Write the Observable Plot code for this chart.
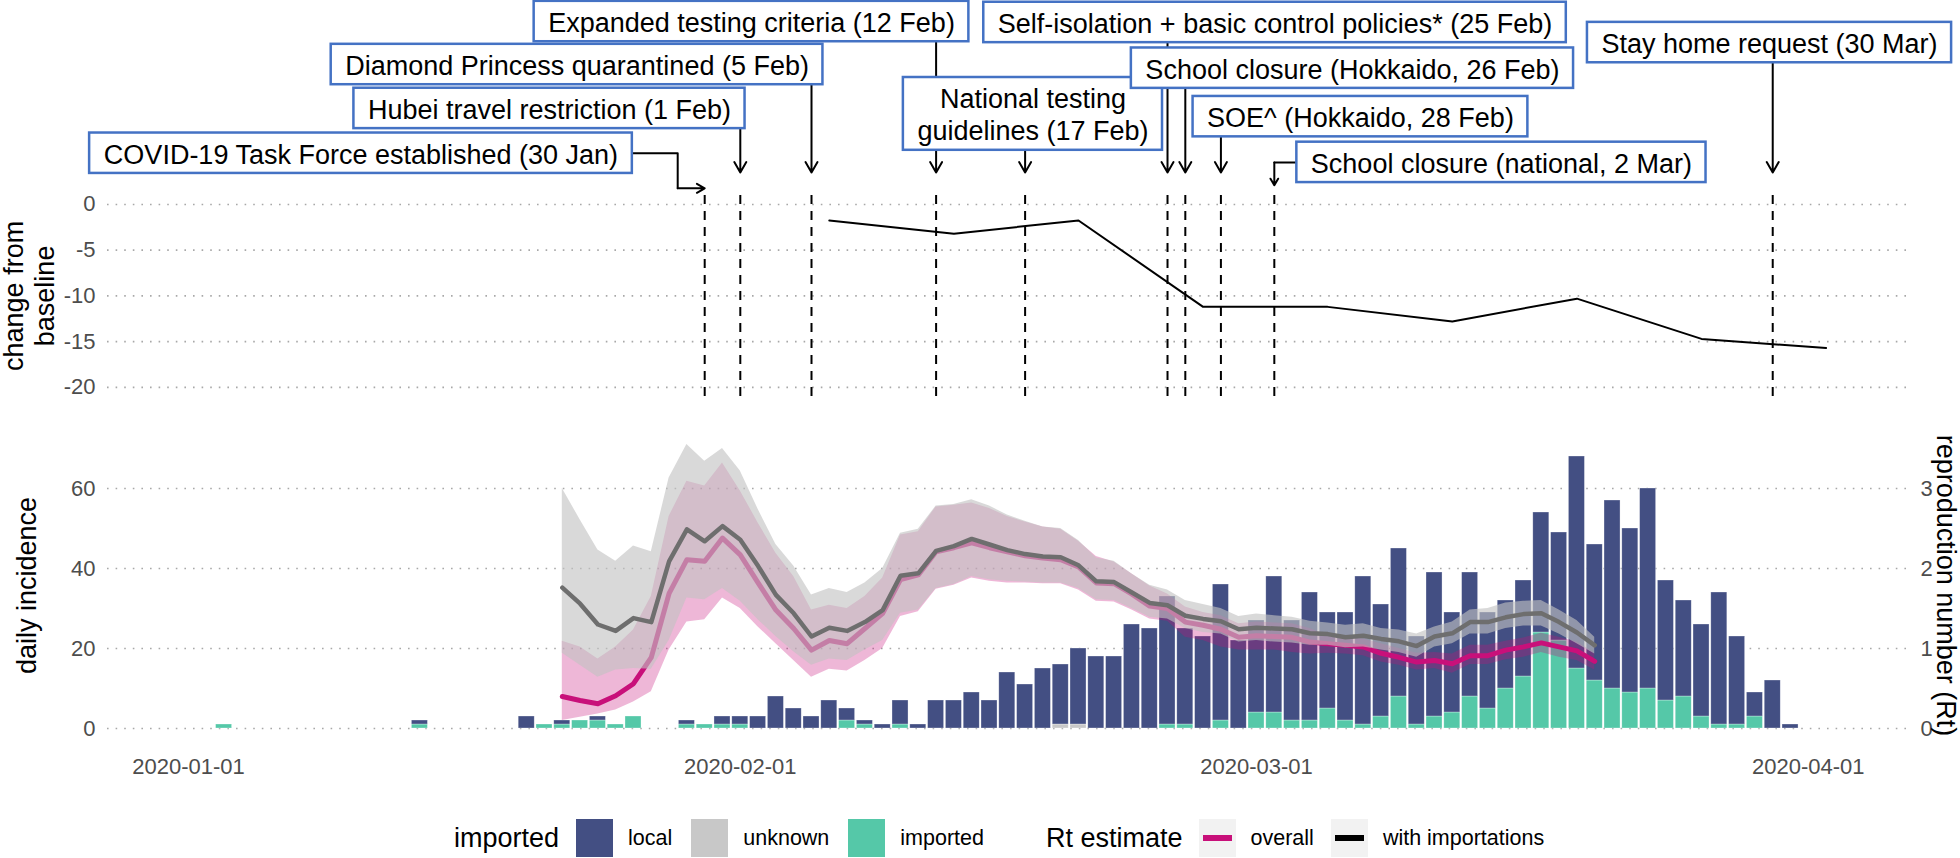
<!DOCTYPE html>
<html><head><meta charset="utf-8">
<script src="https://cdn.jsdelivr.net/npm/d3@7"></script>
<script src="https://cdn.jsdelivr.net/npm/@observablehq/plot@0.6"></script>
<style>
body{margin:0;background:#fff;font-family:"Liberation Sans",Arial,sans-serif;}
#wrap{position:relative;width:1960px;height:858px;overflow:hidden;background:#fff;}
#top{position:absolute;left:0;top:0;}
#bottom{position:absolute;left:0;top:400px;}
#legend{position:absolute;top:819px;left:454px;display:flex;align-items:center;height:38px;font-family:"Liberation Sans",Arial,sans-serif;color:#000;}
#legend .lt{font-size:27px;}
#legend .ll{font-size:21.5px;}
#legend .key{width:37px;height:38px;box-sizing:border-box;position:relative;}
#legend .lkey{background:#f2f2f2;}
#legend .lkey i{position:absolute;left:4px;right:4px;top:16px;height:6px;}
svg [aria-label$="tick label"]{fill:#4d4d4d;}
</style></head><body>
<div id="wrap"><div id="top"></div><div id="bottom"></div><div id="legend"></div></div>
<script>
// ---------------- data ----------------
const barDates = ["2020-01-03","2020-01-14","2020-01-20","2020-01-21","2020-01-22","2020-01-23","2020-01-24","2020-01-25","2020-01-26",
"2020-01-29","2020-01-30","2020-01-31","2020-02-01","2020-02-02","2020-02-03","2020-02-04","2020-02-05","2020-02-06","2020-02-07",
"2020-02-08","2020-02-09","2020-02-10","2020-02-11","2020-02-12","2020-02-13","2020-02-14","2020-02-15","2020-02-16","2020-02-17",
"2020-02-18","2020-02-19","2020-02-20","2020-02-21","2020-02-22","2020-02-23","2020-02-24","2020-02-25","2020-02-26","2020-02-27",
"2020-02-28","2020-02-29","2020-03-01","2020-03-02","2020-03-03","2020-03-04","2020-03-05","2020-03-06","2020-03-07","2020-03-08",
"2020-03-09","2020-03-10","2020-03-11","2020-03-12","2020-03-13","2020-03-14","2020-03-15","2020-03-16","2020-03-17","2020-03-18",
"2020-03-19","2020-03-20","2020-03-21","2020-03-22","2020-03-23","2020-03-24","2020-03-25","2020-03-26","2020-03-27","2020-03-28",
"2020-03-29","2020-03-30","2020-03-31"];
const localCases = [0,1,3,0,1,0,1,0,0,
1,0,2,2,3,8,5,3,7,3,
1,1,6,1,7,7,9,7,14,11,
15,15,19,18,18,26,25,32,24,23,
34,22,23,34,25,32,24,27,37,28,
37,22,36,25,31,24,22,24,30,27,
53,34,47,41,50,30,24,23,33,22,
6,12,1];
const unknownCases = [0,0,0,0,0,0,0,0,0,
0,0,0,0,0,0,0,0,0,0,
0,0,0,0,0,0,0,0,0,0,
0,1,1,0,0,0,0,0,0,0,
0,0,0,0,0,0,0,0,0,0,
0,0,0,0,0,0,0,0,0,0,
0,0,0,0,0,0,0,0,0,0,
0,0,0];
const importedCases = [1,1,0,1,1,2,2,1,3,
1,1,1,1,0,0,0,0,0,2,
1,0,1,0,0,0,0,0,0,0,
0,0,0,0,0,0,0,1,1,0,
2,0,4,4,2,2,5,2,1,3,
8,1,3,4,8,5,10,13,24,22,
15,12,10,9,10,7,8,3,1,1,
3,0,0];

// Rt estimates, one value per day starting at rtStart
const rtStart = "2020-01-22";
const rtOverall = [0.40,0.35,0.31,0.41,0.56,0.89,1.69,2.11,2.09,2.38,2.17,1.82,1.48,1.25,0.98,1.10,1.06,1.25,1.44,1.86,
1.92,2.21,2.26,2.32,2.26,2.21,2.16,2.13,2.11,2.02,1.82,1.81,1.68,1.53,1.50,1.33,1.29,1.24,1.14,1.16,
1.15,1.14,1.08,1.06,1.04,1.02,0.94,0.89,0.83,0.85,0.81,0.91,0.91,0.98,1.02,1.07,1.02,0.97,0.84];
const rtOverallLo = [0.10,0.14,0.18,0.23,0.33,0.46,0.98,1.33,1.36,1.63,1.50,1.27,1.06,0.85,0.64,0.74,0.72,0.85,1.00,1.40,
1.46,1.74,1.79,1.88,1.84,1.82,1.82,1.81,1.81,1.73,1.59,1.58,1.48,1.37,1.34,1.14,1.10,1.02,0.98,0.98,
0.98,0.95,0.93,0.94,0.93,0.91,0.83,0.79,0.73,0.75,0.69,0.80,0.80,0.86,0.89,0.95,0.89,0.85,0.73];
const rtOverallHi = [1.09,1.02,0.87,1.02,1.23,1.65,2.65,3.09,3.03,3.32,2.97,2.57,2.19,1.90,1.48,1.54,1.50,1.65,1.88,2.42,
2.46,2.77,2.79,2.82,2.75,2.65,2.58,2.52,2.49,2.34,2.15,2.08,1.93,1.78,1.68,1.52,1.45,1.41,1.31,1.33,
1.32,1.31,1.25,1.16,1.14,1.12,1.06,1.00,0.94,0.95,0.93,1.04,1.04,1.09,1.13,1.19,1.14,1.08,0.94];
const rtImport = [1.76,1.56,1.30,1.22,1.38,1.33,2.09,2.49,2.34,2.53,2.36,2.03,1.67,1.44,1.15,1.26,1.22,1.33,1.48,1.91,
1.94,2.22,2.28,2.37,2.30,2.23,2.18,2.15,2.14,2.04,1.84,1.83,1.70,1.57,1.54,1.41,1.37,1.34,1.24,1.26,
1.25,1.24,1.19,1.18,1.14,1.16,1.12,1.09,1.03,1.15,1.19,1.33,1.33,1.39,1.43,1.44,1.33,1.20,1.04];
const rtImportLo = [0.94,0.79,0.64,0.73,0.75,0.74,1.10,1.63,1.61,1.75,1.59,1.36,1.15,0.96,0.79,0.87,0.85,0.98,1.10,1.44,
1.48,1.75,1.80,1.90,1.86,1.84,1.83,1.82,1.82,1.75,1.61,1.60,1.50,1.39,1.37,1.25,1.20,1.18,1.08,1.10,
1.08,1.07,1.04,1.04,1.01,1.02,0.98,0.95,0.89,1.02,1.06,1.18,1.18,1.25,1.28,1.28,1.18,1.06,0.93];
const rtImportHi = [3.00,2.61,2.23,2.09,2.28,2.21,3.13,3.55,3.34,3.50,3.22,2.74,2.30,2.03,1.67,1.75,1.70,1.82,2.00,2.44,
2.49,2.78,2.80,2.86,2.78,2.67,2.59,2.52,2.50,2.35,2.13,2.09,1.93,1.79,1.73,1.60,1.55,1.50,1.40,1.43,
1.41,1.39,1.34,1.32,1.29,1.31,1.25,1.23,1.18,1.27,1.33,1.48,1.50,1.57,1.59,1.60,1.48,1.35,1.14];

// mobility: change from baseline
const mobDates = ["2020-02-06","2020-02-13","2020-02-20","2020-02-27","2020-03-05","2020-03-12","2020-03-19","2020-03-26","2020-04-02"];
const mobValues = [-1.75,-3.2,-1.75,-11.2,-11.2,-12.8,-10.3,-14.7,-15.7];

// policy events
const eventDates = ["2020-01-30","2020-02-01","2020-02-05","2020-02-12","2020-02-17","2020-02-25","2020-02-26","2020-02-28","2020-03-02","2020-03-30"];
const eventLabels = ["COVID-19 Task Force established (30 Jan)","Hubei travel restriction (1 Feb)","Diamond Princess quarantined (5 Feb)",
"Expanded testing criteria (12 Feb)","National testing\nguidelines (17 Feb)","Self-isolation + basic control policies* (25 Feb)",
"School closure (Hokkaido, 26 Feb)","SOE^ (Hokkaido, 28 Feb)","School closure (national, 2 Mar)","Stay home request (30 Mar)"];
// label anchor (centre) dates and heights, in units of the top panel's y scale
const labelCentres = ["2020-01-10T16:34Z","2020-01-21T06:43Z","2020-01-22T19:55Z","2020-02-01T15:07Z","2020-02-17T10:34Z",
"2020-03-02T00:58Z","2020-03-06T09:22Z","2020-03-06T20:10Z","2020-03-14T18:14Z","2020-03-29T19:41Z"];
const labelLevels = [5.6,10.5,15.3,20.0,9.9,19.9,14.9,9.6,4.6,17.7];
// connector: "down" (straight arrow), "elbowRight" or "elbowLeft"
const labelConnector = ["elbowRight","down","down","down","down","down","down","down","elbowLeft","down"];

const xTickDates = ["2020-01-01","2020-02-01","2020-03-01","2020-04-01"];
const topTicks = [0,-5,-10,-15,-20];
const incTicks = [0,20,40,60];
const rtTicks = [0,1,2,3];
const RT_SCALE = 20; // secondary axis: incidence = Rt * 20

const caseTypes = ["local","unknown","imported"];
const caseColors = ["#434f83","#c8c8c8","#55c8a8"];
const rtLegend = ["overall","with importations"];

// ---------------- layout ----------------
const DAY = 864e5;
const ORIGIN = Date.UTC(2020,0,1);
const X_DOMAIN = [new Date(ORIGIN - 4.55*DAY), new Date(ORIGIN + 96.74*DAY)];
const W = 1960, ML = 107, MR = 50;
const TOP_H = 396, TOP_Y = [-21, 22.3];
const PANEL_Y = [-21, 1];
const ARROW_TIP = 3.5;
const FONT = "'Liberation Sans', Arial, sans-serif";
const LABEL_FS = 27, LH = 1.2;

const xS = Plot.scale({x:{type:"utc", domain:X_DOMAIN, range:[ML, W-MR]}});
const yT = Plot.scale({y:{domain:TOP_Y, range:[TOP_H, 0]}});

const ctx = document.createElement("canvas").getContext("2d");
ctx.font = `${LABEL_FS}px 'Liberation Sans'`;

const events = eventDates.map((d,i) => {
  const lines = eventLabels[i].split("\n");
  const tw = Math.max(...lines.map(l => ctx.measureText(l).width));
  const w = tw + 28, h = lines.length*LABEL_FS*LH + 8;
  const c = new Date(labelCentres[i]);
  const cx = xS.apply(c), cy = yT.apply(labelLevels[i]);
  return {
    date: new Date(d), label: eventLabels[i], centre: c, level: labelLevels[i], conn: labelConnector[i],
    bx1: xS.invert(cx - w/2), bx2: xS.invert(cx + w/2),
    by1: yT.invert(cy + h/2), by2: yT.invert(cy - h/2)
  };
});

const downArrows = events.filter(e => e.conn === "down");
const elbowR = events.filter(e => e.conn === "elbowRight");
const elbowL = events.filter(e => e.conn === "elbowLeft");
const elbowRPaths = elbowR.flatMap((e,k) => {
  const knee = xS.invert(xS.apply(e.date) - 27);
  const low = yT.invert(yT.apply(PANEL_Y[1]) - 7);
  return [{x: e.centre, y: e.level, g: k},{x: knee, y: e.level, g: k},{x: knee, y: low, g: k}];
});
const elbowRArrows = elbowR.map(e => ({x1: xS.invert(xS.apply(e.date) - 27), x2: e.date, y: yT.invert(yT.apply(PANEL_Y[1]) - 7)}));
const elbowLPaths = elbowL.flatMap((e,k) => [{x: e.centre, y: e.level, g: k},{x: e.date, y: e.level, g: k}]);
const elbowLArrows = elbowL.map(e => ({x: e.date, y1: e.level, y2: yT.invert(yT.apply(PANEL_Y[1]) - 10)}));

const mob = mobDates.map((d,i) => ({date: new Date(d), v: mobValues[i]}));

const dotted = {stroke:"#a8a8a8", strokeWidth:1.6, strokeDasharray:"1.6,7"};

const topPlot = Plot.plot({
  width: W, height: TOP_H, marginLeft: ML, marginRight: MR, marginTop: 0, marginBottom: 0,
  style: {fontFamily: FONT, background: "transparent", overflow: "visible"},
  x: {type:"utc", domain: X_DOMAIN, axis: null},
  y: {domain: TOP_Y, axis: null},
  marks: [
    Plot.ruleY(topTicks, dotted),
    Plot.ruleX(eventDates.map(d => new Date(d)), {y1: PANEL_Y[0], y2: PANEL_Y[1], stroke:"#000", strokeWidth:2, strokeDasharray:"9,7"}),
    Plot.line(mob, {x:"date", y:"v", stroke:"#000", strokeWidth:2}),
    Plot.line(elbowRPaths, {x:"x", y:"y", z:"g", stroke:"#000", strokeWidth:2}),
    Plot.arrow(elbowRArrows, {x1:"x1", x2:"x2", y1:"y", y2:"y", stroke:"#000", strokeWidth:2, headLength:9}),
    Plot.line(elbowLPaths, {x:"x", y:"y", z:"g", stroke:"#000", strokeWidth:2}),
    Plot.arrow(elbowLArrows, {x1:"x", x2:"x", y1:"y1", y2:"y2", stroke:"#000", strokeWidth:2, headLength:9}),
    Plot.arrow(downArrows, {x1:"date", x2:"date", y1:"level", y2: () => ARROW_TIP, stroke:"#000", strokeWidth:2, headLength:9}),
    Plot.rect(events, {x1:"bx1", x2:"bx2", y1:"by1", y2:"by2", fill:"#fff", stroke:"#4472c4", strokeWidth:2.5}),
    Plot.text(events, {x:"centre", y:"level", text:"label", fontSize:LABEL_FS, lineHeight:LH, fill:"#000"}),
    Plot.axisY({ticks: topTicks, tickFormat: d => String(d), tickSize:0, tickPadding:12, fontSize:22, label:null}),
    Plot.text([{t:"change from\nbaseline", y:(PANEL_Y[0]+PANEL_Y[1])/2}], {frameAnchor:"left", y:"y", text:"t", dx:-79, rotate:-90, textAnchor:"middle", lineAnchor:"middle", fontSize:27, lineHeight:1.15, fill:"#000"})
  ]
});
document.getElementById("top").appendChild(topPlot);

// ---- bottom panel ----
const segs = [];
barDates.forEach((s,i) => {
  const t = new Date(s); let base = 0;
  [["imported", importedCases[i]], ["unknown", unknownCases[i]], ["local", localCases[i]]].forEach(([k,v]) => {
    if (v > 0) { segs.push({x1: new Date(+t - 0.45*DAY), x2: new Date(+t + 0.45*DAY), y1: base, y2: base + v, type: k}); base += v; }
  });
});
const t0 = new Date(rtStart);
const rt = rtOverall.map((v,i) => ({
  date: new Date(+t0 + i*DAY), o: v*RT_SCALE, oLo: rtOverallLo[i]*RT_SCALE, oHi: rtOverallHi[i]*RT_SCALE,
  m: rtImport[i]*RT_SCALE, mLo: rtImportLo[i]*RT_SCALE, mHi: rtImportHi[i]*RT_SCALE
}));

const bottomPlot = Plot.plot({
  width: W, height: 400, marginLeft: ML, marginRight: MR, marginTop: 28, marginBottom: 58,
  style: {fontFamily: FONT, background: "transparent", overflow: "visible"},
  x: {type:"utc", domain: X_DOMAIN},
  y: {domain: [-3.5, 75]},
  color: {domain: caseTypes, range: caseColors},
  marks: [
    Plot.ruleY(incTicks, dotted),
    Plot.rect(segs, {x1:"x1", x2:"x2", y1:"y1", y2:"y2", fill:"type", stroke:"#fff", strokeOpacity:0.5, strokeWidth:0.6}),
    Plot.areaY(rt, {x:"date", y1:"oLo", y2:"oHi", fill:"#c8107a", fillOpacity:0.3}),
    Plot.lineY(rt, {x:"date", y:"o", stroke:"#c8107a", strokeWidth:5}),
    Plot.areaY(rt, {x:"date", y1:"mLo", y2:"mHi", fill:"#c2c2c2", fillOpacity:0.62}),
    Plot.lineY(rt, {x:"date", y:"m", stroke:"#6e6e6e", strokeWidth:4.5}),
    Plot.axisX({ticks: xTickDates.map(d => new Date(d)), tickFormat: d3.utcFormat("%Y-%m-%d"), tickSize:0, tickPadding:16, fontSize:22, label:null}),
    Plot.axisY({ticks: incTicks, tickSize:0, tickPadding:12, fontSize:22, label:null}),
    Plot.axisY({anchor:"right", ticks: rtTicks.map(r => r*RT_SCALE), tickFormat: d => String(d/RT_SCALE), tickSize:0, tickPadding:10, fontSize:22, label:null}),
    Plot.text(["daily incidence"], {frameAnchor:"left", dx:-80, rotate:-90, textAnchor:"middle", lineAnchor:"middle", fontSize:27, fill:"#000"}),
    Plot.text(["reproduction number (Rt)"], {frameAnchor:"right", dx:35, rotate:90, textAnchor:"middle", lineAnchor:"middle", fontSize:27, fill:"#000"})
  ]
});
document.getElementById("bottom").appendChild(bottomPlot);

// ---- legend ----
const lg = document.getElementById("legend");
function add(html, mr){ const s = document.createElement("span"); s.innerHTML = html.inner; s.className = html.cls; if (html.bg) s.style.background = html.bg; s.style.marginRight = mr + "px"; lg.appendChild(s); return s; }
add({cls:"lt", inner:"imported"}, 17);
caseTypes.forEach((c,i) => {
  add({cls:"key", inner:"", bg: caseColors[i]}, 15);
  add({cls:"ll", inner: c}, i === caseTypes.length-1 ? 62 : 19);
});
add({cls:"lt", inner:"Rt estimate"}, 16);
const rtCols = ["#c8107a","#000"];
rtLegend.forEach((c,i) => {
  add({cls:"key lkey", inner:`<i style="background:${rtCols[i]}"></i>`}, 15);
  add({cls:"ll", inner: c}, 17);
});
</script></body></html>
